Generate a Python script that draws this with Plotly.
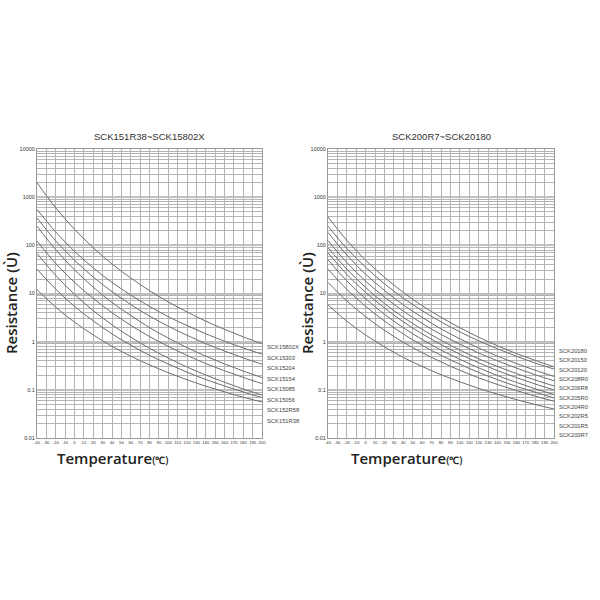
import plotly.graph_objects as go

temps = [-40, -20, 0, 20, 40, 60, 80, 100, 120, 140, 160, 180, 200]

left_title = "SCK151R38~SCK15802X"
right_title = "SCK200R7~SCK20180"

left_names = ["SCK15802X", "SCK15303", "SCK15204", "SCK15154",
              "SCK15085", "SCK15056", "SCK152R58", "SCK151R38"]
left_values = [
    [2000, 601, 216, 89, 41, 21, 11.5, 6.7, 4.14, 2.67, 1.8, 1.26, 0.9],
    [556, 189, 75, 34, 17, 9.3, 5.4, 3.3, 2.16, 1.46, 1.02, 0.74, 0.55],
    [370, 124, 49, 22, 10.9, 5.9, 3.4, 2.1, 1.36, 0.91, 0.64, 0.46, 0.34],
    [250, 81, 31, 13.5, 6.5, 3.5, 1.96, 1.19, 0.75, 0.5, 0.345, 0.245, 0.18],
    [123, 42, 17, 7.9, 4.0, 2.19, 1.28, 0.8, 0.52, 0.352, 0.249, 0.181, 0.135],
    [68, 23.7, 9.6, 4.4, 2.24, 1.24, 0.73, 0.457, 0.298, 0.203, 0.144, 0.104, 0.078],
    [32, 12.3, 5.4, 2.7, 1.45, 0.85, 0.52, 0.343, 0.233, 0.164, 0.12, 0.09, 0.069],
    [12, 5.2, 2.54, 1.38, 0.8, 0.5, 0.33, 0.227, 0.162, 0.119, 0.091, 0.07, 0.056],
]

right_names = ["SCK20180", "SCK20150", "SCK20120", "SCK208R0", "SCK206R8",
               "SCK205R0", "SCK204R0", "SCK202R5", "SCK201R5", "SCK200R7"]
right_values = [
    [390, 127, 49, 21.7, 10.5, 5.6, 3.2, 1.95, 1.24, 0.82, 0.57, 0.41, 0.30],
    [250, 86, 35, 15.9, 8.0, 4.4, 2.57, 1.6, 1.04, 0.71, 0.5, 0.36, 0.27],
    [185, 63, 25, 11.6, 5.8, 3.2, 1.84, 1.15, 0.74, 0.5, 0.353, 0.255, 0.19],
    [125, 44, 18, 8.4, 4.3, 2.39, 1.41, 0.89, 0.58, 0.4, 0.283, 0.206, 0.155],
    [90, 32, 13.3, 6.2, 3.2, 1.8, 1.07, 0.67, 0.44, 0.305, 0.218, 0.16, 0.12],
    [70, 25, 10.5, 5.0, 2.58, 1.46, 0.87, 0.55, 0.365, 0.25, 0.18, 0.132, 0.10],
    [50, 18.3, 7.8, 3.7, 1.95, 1.11, 0.67, 0.43, 0.286, 0.198, 0.143, 0.105, 0.08],
    [32, 12.2, 5.4, 2.68, 1.44, 0.84, 0.52, 0.34, 0.23, 0.162, 0.118, 0.089, 0.068],
    [17, 7.0, 3.3, 1.72, 0.97, 0.59, 0.38, 0.255, 0.178, 0.129, 0.097, 0.074, 0.058],
    [5.8, 2.67, 1.37, 0.78, 0.47, 0.306, 0.206, 0.147, 0.107, 0.081, 0.0625, 0.0495, 0.04],
]

x_ticks = list(range(-40, 201, 10))
y_tickvals = [0.01, 0.1, 1, 10, 100, 1000, 10000]
y_ticktext = ["0.01", "0.1", "1", "10", "100", "1000", "10000"]

# body margin is removed in post_script, so page coords == paper coords
W = H = 600


def px(x):
    return x / W


def py(y):
    return 1 - y / H


fig = go.Figure()

line_color = "#6e6e6e"
for name, vals in zip(left_names, left_values):
    fig.add_trace(go.Scatter(x=temps, y=vals, mode="lines", name=name,
                             line=dict(color=line_color, width=1, shape="spline"),
                             xaxis="x", yaxis="y", showlegend=False))
for name, vals in zip(right_names, right_values):
    fig.add_trace(go.Scatter(x=temps, y=vals, mode="lines", name=name,
                             line=dict(color=line_color, width=1, shape="spline"),
                             xaxis="x2", yaxis="y2", showlegend=False))

ydom = [py(438), py(149)]
xdom1 = [px(37), px(262)]
xdom2 = [px(328), px(554)]

grid_col = "#b4b4b4"
xaxis_common = dict(range=[-40, 200], tickmode="array", tickvals=x_ticks,
                    ticktext=[str(t) for t in x_ticks], tickangle=0,
                    tickfont=dict(size=4.2, color="#333", family="Arial"),
                    showgrid=True, gridcolor=grid_col, gridwidth=1,
                    showline=True, linecolor="#999", linewidth=1, mirror=True,
                    zeroline=False, ticks="", automargin=False)
yaxis_common = dict(type="log", range=[-2, 4], tickmode="array",
                    tickvals=y_tickvals, ticktext=y_ticktext,
                    tickfont=dict(size=5.5, color="#333", family="Arial"),
                    showgrid=True, gridcolor="#c0c0c0", gridwidth=2,
                    minor=dict(tickmode="array",
                               tickvals=[m * 10 ** e for e in range(-2, 4) for m in range(2, 10)],
                               showgrid=True, gridcolor=grid_col, gridwidth=1, ticks=""),
                    showline=True, linecolor="#999", linewidth=1, mirror=True,
                    zeroline=False, ticks="", automargin=False)

fig.update_layout(
    width=W, height=H,
    margin=dict(l=0, r=0, t=0, b=0, autoexpand=False),
    paper_bgcolor="white", plot_bgcolor="white",
    xaxis=dict(domain=xdom1, anchor="y", **xaxis_common),
    yaxis=dict(domain=ydom, anchor="x", **yaxis_common),
    xaxis2=dict(domain=xdom2, anchor="y2", **xaxis_common),
    yaxis2=dict(domain=ydom, anchor="x2", **yaxis_common),
)

ann = []
title_font = dict(size=9.5, color="#333", family="Arial")
ann.append(dict(text=left_title, x=(xdom1[0] + xdom1[1]) / 2, y=py(137),
                xref="paper", yref="paper", showarrow=False, font=title_font,
                xanchor="center", yanchor="middle"))
ann.append(dict(text=right_title, x=(xdom2[0] + xdom2[1]) / 2, y=py(137),
                xref="paper", yref="paper", showarrow=False, font=title_font,
                xanchor="center", yanchor="middle"))

ylab = "Resistance (Ù)"
xlab = "Temperature<span style='font-size:10px'>(℃)</span>"
for xc in [11, 307]:
    ann.append(dict(text=ylab, x=px(xc), y=py(303), xref="paper", yref="paper",
                    showarrow=False, textangle=-90, xanchor="center", yanchor="middle",
                    font=dict(size=15, color="#222", family="Open Sans", weight=600)))
for xc in [113, 407]:
    ann.append(dict(text=xlab, x=px(xc), y=py(458), xref="paper", yref="paper",
                    showarrow=False, xanchor="center", yanchor="middle",
                    font=dict(size=15, color="#222", family="Open Sans", weight=600)))

lab_font = dict(size=5.8, color="#444", family="Arial")
for i, name in enumerate(left_names):
    ann.append(dict(text=name, x=px(265), y=py(347 + i * 10.5),
                    xref="paper", yref="paper", showarrow=False, xanchor="left",
                    yanchor="middle", font=lab_font))
for i, name in enumerate(right_names):
    ann.append(dict(text=name, x=px(557), y=py(351 + i * 9.35),
                    xref="paper", yref="paper", showarrow=False, xanchor="left",
                    yanchor="middle", font=lab_font))

fig.update_layout(annotations=ann)
fig.write_html("out.html", config={"displayModeBar": False},
               post_script="document.body.style.margin='0';document.body.style.padding='0';")
